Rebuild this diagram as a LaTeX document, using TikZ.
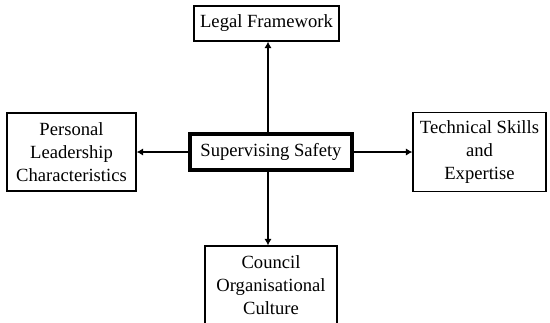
\documentclass[tikz,border=0pt]{standalone}
\usepackage{fontspec}
\setmainfont{Liberation Serif}
\usetikzlibrary{arrows.meta}
\begin{document}
\begin{tikzpicture}[x=1pt,y=-1pt,
  box/.style={draw=black, line width=1.3pt, fill=white, align=center,
    inner sep=0pt, font=\fontsize{18.6}{23.3}\selectfont},
  mainbox/.style={box, line width=3.5pt},
  link/.style={line width=2.8pt, -{Latex[length=6.5pt,width=7.5pt]}}]
  \useasboundingbox (0,0) rectangle (550,322);
  \clip (0,0) rectangle (550,322);
  % central topic and the four influences around it
  \node[mainbox, minimum width=162pt, minimum height=36pt] (sup) at (271,152) {Supervising Safety};
  \node[box, minimum width=145pt, minimum height=35pt] (leg) at (266.5,23.5) {Legal Framework};
  \node[box, minimum width=129pt, minimum height=78pt] (per) at (71.5,152) {Personal\\Leadership\\Characteristics};
  \node[box, minimum width=133pt, minimum height=79pt] (tec) at (479.5,152) {Technical Skills\\and\\Expertise};
  \node[box, minimum width=132pt, minimum height=78pt] (cou) at (271,285) {Council\\Organisational\\Culture};
  % connectors
  \coordinate (vx) at (268,0);
  \draw[link] (sup.north -| vx) -- (leg.south -| vx);
  \draw[link] (sup.south -| vx) -- (cou.north -| vx);
  \draw[link] (sup.west) -- (sup.west -| per.east);
  \draw[link] (sup.east) -- (sup.east -| tec.west);
\end{tikzpicture}
\end{document}
